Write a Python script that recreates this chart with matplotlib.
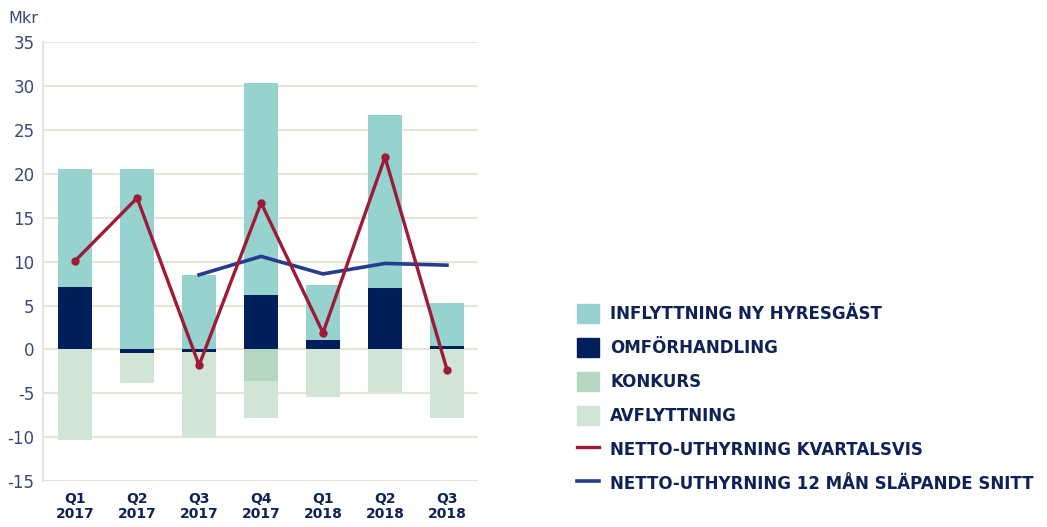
import numpy as np
import matplotlib
matplotlib.use("Agg")
import matplotlib.pyplot as plt
from matplotlib.patches import Patch
from matplotlib.lines import Line2D

plt.rcParams["axes.unicode_minus"] = False

quarters = ["Q1\n2017", "Q2\n2017", "Q3\n2017", "Q4\n2017", "Q1\n2018", "Q2\n2018", "Q3\n2018"]
inflyttning = [13.45, 20.6, 8.45, 24.2, 6.23, 19.7, 4.85]
omforhandling = [7.15, -0.4, -0.3, 6.2, 1.13, 7.0, 0.45]
konkurs = [0, 0, 0, -3.55, 0, 0, 0]
avflyttning = [-10.35, -3.4, -9.7, -4.25, -5.45, -4.8, -7.8]
netto_kvartal = [10.1, 17.25, -1.8, 16.7, 1.9, 21.9, -2.3]
netto_12man = [np.nan, np.nan, 8.5, 10.6, 8.6, 9.8, 9.6]

c_infl = "#96d3cf"
c_omf = "#001f5b"
c_konk = "#b6d7bf"
c_avfl = "#d1e5d7"
c_red = "#9e1b36"
c_blue = "#263d8f"
c_grid = "#e6e4d4"
c_tick = "#3a4877"
c_text = "#0f2257"

fig = plt.figure(figsize=(10.47, 5.27), dpi=100)
ax = fig.add_axes([0.041, 0.087, 0.4155, 0.833])

x = np.arange(len(quarters))
w = 0.55
omf = np.array(omforhandling)
omf_pos = np.clip(omf, 0, None)
omf_neg = np.clip(omf, None, 0)
konk = np.array(konkurs)

ax.bar(x, omf_pos, w, color=c_omf, zorder=2)
ax.bar(x, inflyttning, w, bottom=omf_pos, color=c_infl, zorder=2)
ax.bar(x, omf_neg, w, color=c_omf, zorder=2)
ax.bar(x, konk, w, bottom=omf_neg, color=c_konk, zorder=2)
ax.bar(x, avflyttning, w, bottom=omf_neg + konk, color=c_avfl, zorder=2)

ax.plot(x, netto_12man, color=c_blue, lw=2.6, zorder=3)
ax.plot(x, netto_kvartal, color=c_red, lw=2.4, marker="o", ms=5, zorder=4)

ax.set_xlim(-0.52, 6.5)
ax.set_ylim(-15, 35)
ax.set_yticks(range(-15, 36, 5))
ax.yaxis.grid(True, color=c_grid, lw=1.5, zorder=0)
ax.set_axisbelow(True)
for s in ["top", "right", "bottom"]:
    ax.spines[s].set_visible(False)
ax.spines["left"].set_color(c_grid)
ax.spines["left"].set_linewidth(1.5)
ax.tick_params(axis="y", length=0, labelsize=12, labelcolor=c_tick, pad=6)
ax.tick_params(axis="x", length=0, pad=8)
ax.set_xticks(x)
ax.set_xticklabels(quarters, fontsize=10, fontweight="bold", color=c_text, linespacing=1.05)
fig.text(0.008, 0.965, "Mkr", fontsize=11.5, color=c_tick, va="center")

handles = [
    Patch(color=c_infl, label="INFLYTTNING NY HYRESGÄST"),
    Patch(color=c_omf, label="OMFÖRHANDLING"),
    Patch(color=c_konk, label="KONKURS"),
    Patch(color=c_avfl, label="AVFLYTTNING"),
    Line2D([], [], color=c_red, lw=2.4, label="NETTO-UTHYRNING KVARTALSVIS"),
    Line2D([], [], color=c_blue, lw=2.6, label="NETTO-UTHYRNING 12 MÅN SLÄPANDE SNITT"),
]
leg = fig.legend(handles=handles, loc="upper left", bbox_to_anchor=(0.551, 0.4225),
                 frameon=False, handlelength=1.35, handleheight=1.35, labelspacing=0.9,
                 handletextpad=0.65, borderaxespad=0, borderpad=0,
                 prop={"weight": "bold", "size": 12})
for t in leg.get_texts():
    t.set_color(c_text)

fig.savefig("out.png", dpi=100)
